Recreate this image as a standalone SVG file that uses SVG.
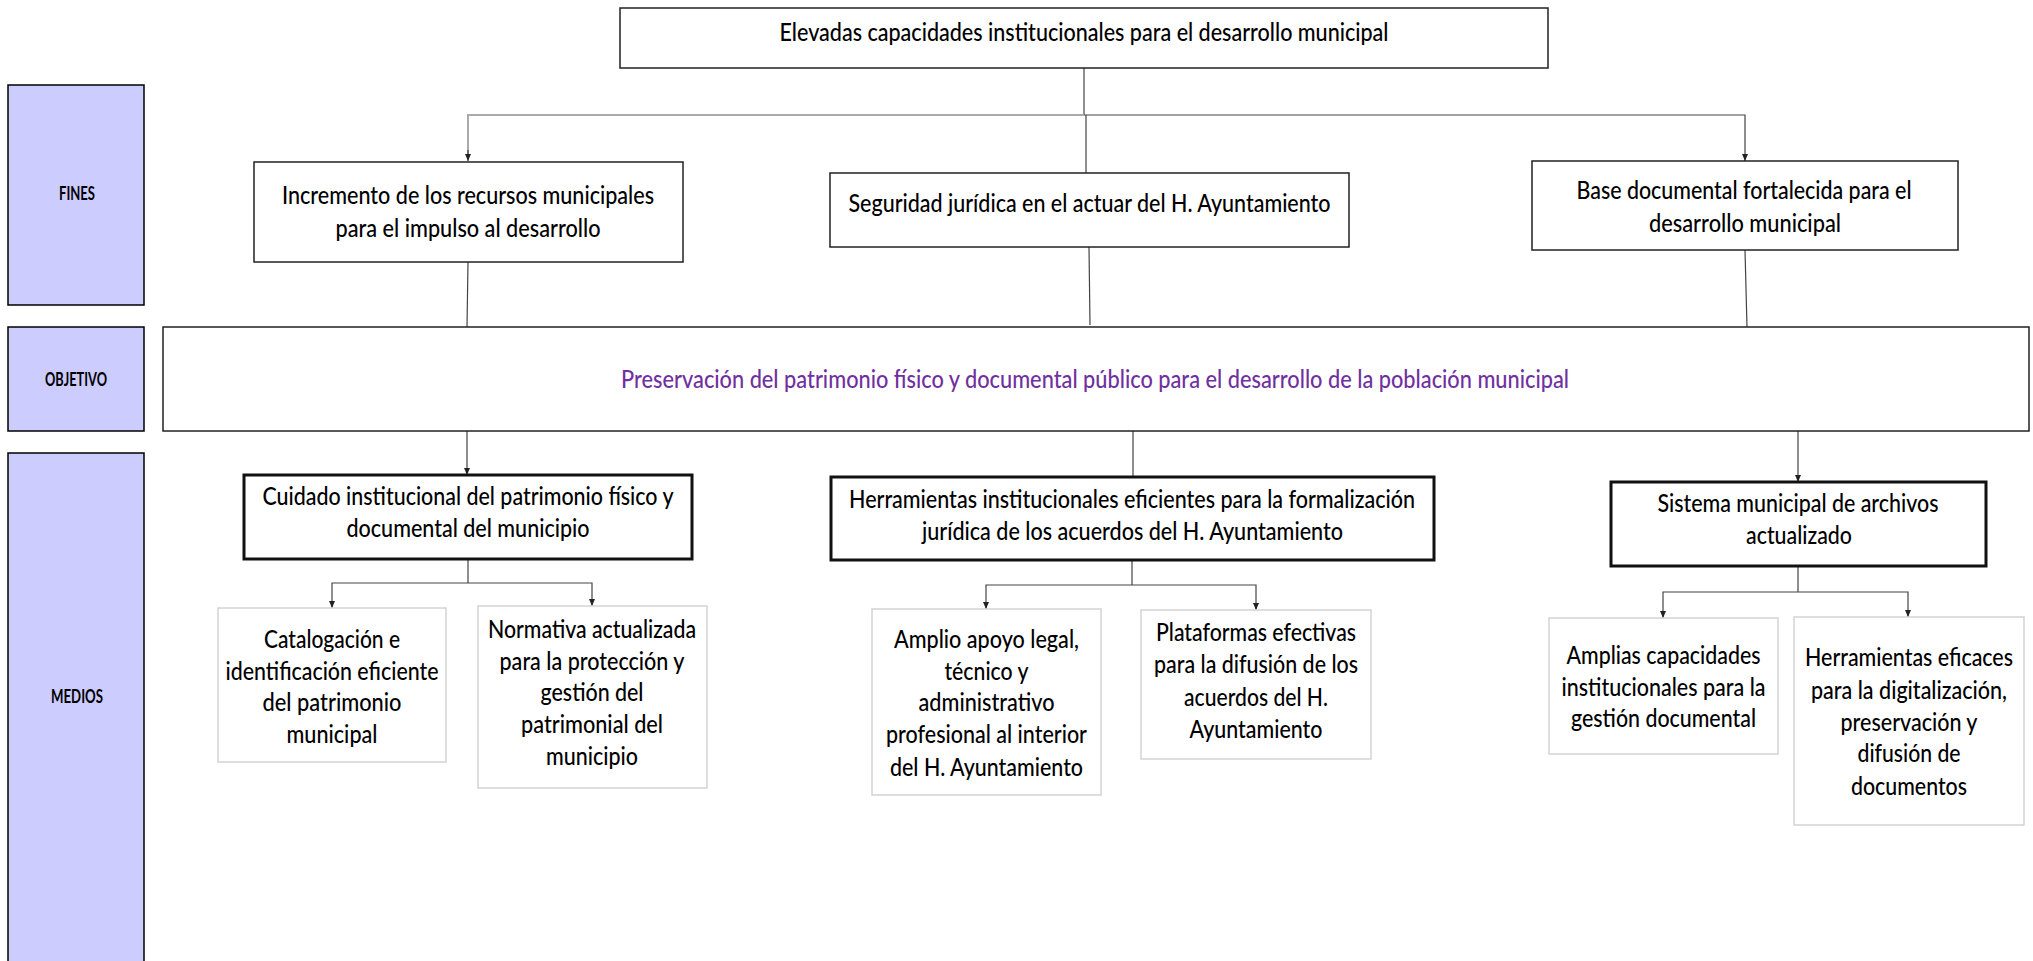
<svg xmlns="http://www.w3.org/2000/svg" width="2033" height="961" viewBox="0 0 2033 961">
<style>
.t{font-family:Lato,"Open Sans","Liberation Sans",sans-serif;font-size:25px;font-weight:500;fill:#000;text-anchor:middle}
.lb{font-family:Lato,"Open Sans","Liberation Sans",sans-serif;font-size:18px;font-weight:bold;fill:#000;text-anchor:middle}
.obj{fill:#7030A0}
.lab{fill:#CCCCFF;stroke:#000;stroke-width:1.5}
.fin{fill:#fff;stroke:#222;stroke-width:1.5}
.med{fill:#fff;stroke:#111;stroke-width:3}
.sub{fill:#fff;stroke:#D3D3D3;stroke-width:1.5}
.c{fill:none;stroke:#444;stroke-width:1.2}
.cl{fill:none;stroke:#AAA;stroke-width:2}
</style>
<defs>
<marker id="ah" markerUnits="userSpaceOnUse" markerWidth="8" markerHeight="8" refX="7" refY="3" orient="auto">
<path d="M0,0 L7,3 L0,6 z" fill="#222"/>
</marker>
</defs>
<rect width="2033" height="961" fill="#fff"/>

<g id="connectors">
<line class="c" x1="1084" y1="68" x2="1084" y2="115"/>
<polyline class="cl" points="1084,115 468,115 468,154"/>
<line class="c" x1="468" y1="150" x2="468" y2="161" marker-end="url(#ah)"/>
<polyline class="c" points="1084,115 1745,115 1745,161" marker-end="url(#ah)"/>
<line class="c" x1="1086" y1="115" x2="1086" y2="173"/>
<line class="c" x1="468" y1="262" x2="467" y2="327"/>
<line class="c" x1="1089" y1="247" x2="1090" y2="325"/>
<line class="c" x1="1745" y1="250" x2="1747" y2="327"/>
<polyline class="c" points="1116,429 467,429 467,475" marker-end="url(#ah)"/>
<polyline class="c" points="1121,429 1798,429 1798,482" marker-end="url(#ah)"/>
<line class="c" x1="1133" y1="429" x2="1133" y2="477"/>
<line class="c" x1="468" y1="559" x2="468" y2="583"/>
<polyline class="c" points="468,583 332,583 332,608" marker-end="url(#ah)"/>
<polyline class="c" points="468,583 592,583 592,606" marker-end="url(#ah)"/>
<line class="c" x1="1132" y1="560" x2="1132" y2="585"/>
<polyline class="c" points="1132,585 986,585 986,609" marker-end="url(#ah)"/>
<polyline class="c" points="1132,585 1256,585 1256,610" marker-end="url(#ah)"/>
<line class="c" x1="1798" y1="566" x2="1798" y2="592"/>
<polyline class="c" points="1798,592 1663,592 1663,618" marker-end="url(#ah)"/>
<polyline class="c" points="1798,592 1908,592 1908,617" marker-end="url(#ah)"/>
</g>

<g id="label-fines">
<rect class="lab" x="8" y="85" width="136" height="220"/>
<text class="lb" x="77" y="200" textLength="36" lengthAdjust="spacingAndGlyphs">FINES</text>
</g>
<g id="label-objetivo">
<rect class="lab" x="8" y="327" width="136" height="104"/>
<text class="lb" x="76" y="386" textLength="62" lengthAdjust="spacingAndGlyphs">OBJETIVO</text>
</g>
<g id="label-medios">
<rect class="lab" x="8" y="453" width="136" height="520"/>
<text class="lb" x="77" y="703" textLength="52" lengthAdjust="spacingAndGlyphs">MEDIOS</text>
</g>

<g id="fin-top">
<rect class="fin" x="620" y="8" width="928" height="60"/>
<text class="t" x="1084" y="41" textLength="609" lengthAdjust="spacingAndGlyphs">Elevadas capacidades institucionales para el desarrollo municipal</text>
</g>
<g id="fin-1">
<rect class="fin" x="254" y="162" width="429" height="100"/>
<text class="t" x="468" y="204" textLength="372" lengthAdjust="spacingAndGlyphs">Incremento de los recursos municipales</text>
<text class="t" x="468" y="237" textLength="265" lengthAdjust="spacingAndGlyphs">para el impulso al desarrollo</text>
</g>
<g id="fin-2">
<rect class="fin" x="830" y="173" width="519" height="74"/>
<text class="t" x="1089.5" y="212" textLength="482" lengthAdjust="spacingAndGlyphs">Seguridad jurídica en el actuar del H. Ayuntamiento</text>
</g>
<g id="fin-3">
<rect class="fin" x="1532" y="161" width="426" height="89"/>
<text class="t" x="1744" y="199" textLength="335" lengthAdjust="spacingAndGlyphs">Base documental fortalecida para el</text>
<text class="t" x="1745" y="232" textLength="192" lengthAdjust="spacingAndGlyphs">desarrollo municipal</text>
</g>

<g id="objetivo">
<rect class="fin" x="163" y="327" width="1866" height="104" stroke="#000"/>
<text class="t obj" x="1095" y="388" textLength="948" lengthAdjust="spacingAndGlyphs">Preservación del patrimonio físico y documental público para el desarrollo de la población municipal</text>
</g>

<g id="medio-1">
<rect class="med" x="244" y="475" width="448" height="84"/>
<text class="t" x="468" y="505" textLength="411" lengthAdjust="spacingAndGlyphs">Cuidado institucional del patrimonio físico y</text>
<text class="t" x="468" y="537" textLength="243" lengthAdjust="spacingAndGlyphs">documental del municipio</text>
</g>
<g id="medio-2">
<rect class="med" x="831" y="477" width="603" height="83"/>
<text class="t" x="1132" y="508" textLength="566" lengthAdjust="spacingAndGlyphs">Herramientas institucionales eficientes para la formalización</text>
<text class="t" x="1132.5" y="540" textLength="421" lengthAdjust="spacingAndGlyphs">jurídica de los acuerdos del H. Ayuntamiento</text>
</g>
<g id="medio-3">
<rect class="med" x="1611" y="482" width="375" height="84"/>
<text class="t" x="1798" y="512" textLength="281" lengthAdjust="spacingAndGlyphs">Sistema municipal de archivos</text>
<text class="t" x="1799" y="544" textLength="106" lengthAdjust="spacingAndGlyphs">actualizado</text>
</g>

<g id="sub-1a">
<rect class="sub" x="218" y="608" width="228" height="154"/>
<text class="t" x="332" y="648" textLength="136" lengthAdjust="spacingAndGlyphs">Catalogación e</text>
<text class="t" x="332" y="680" textLength="213" lengthAdjust="spacingAndGlyphs">identificación eficiente</text>
<text class="t" x="332" y="711" textLength="139" lengthAdjust="spacingAndGlyphs">del patrimonio</text>
<text class="t" x="332" y="743" textLength="91" lengthAdjust="spacingAndGlyphs">municipal</text>
</g>
<g id="sub-1b">
<rect class="sub" x="478" y="606" width="229" height="182"/>
<text class="t" x="592" y="638" textLength="208" lengthAdjust="spacingAndGlyphs">Normativa actualizada</text>
<text class="t" x="592" y="670" textLength="185" lengthAdjust="spacingAndGlyphs">para la protección y</text>
<text class="t" x="592" y="701" textLength="103" lengthAdjust="spacingAndGlyphs">gestión del</text>
<text class="t" x="592" y="733" textLength="142" lengthAdjust="spacingAndGlyphs">patrimonial del</text>
<text class="t" x="592" y="765" textLength="92" lengthAdjust="spacingAndGlyphs">municipio</text>
</g>
<g id="sub-2a">
<rect class="sub" x="872" y="609" width="229" height="186"/>
<text class="t" x="986.5" y="648" textLength="185" lengthAdjust="spacingAndGlyphs">Amplio apoyo legal,</text>
<text class="t" x="986.5" y="680" textLength="84" lengthAdjust="spacingAndGlyphs">técnico y</text>
<text class="t" x="986.5" y="711" textLength="136" lengthAdjust="spacingAndGlyphs">administrativo</text>
<text class="t" x="986.5" y="743" textLength="201" lengthAdjust="spacingAndGlyphs">profesional al interior</text>
<text class="t" x="986.5" y="776" textLength="193" lengthAdjust="spacingAndGlyphs">del H. Ayuntamiento</text>
</g>
<g id="sub-2b">
<rect class="sub" x="1141" y="610" width="230" height="149"/>
<text class="t" x="1256" y="641" textLength="200" lengthAdjust="spacingAndGlyphs">Plataformas efectivas</text>
<text class="t" x="1256" y="673" textLength="204" lengthAdjust="spacingAndGlyphs">para la difusión de los</text>
<text class="t" x="1256" y="706" textLength="144" lengthAdjust="spacingAndGlyphs">acuerdos del H.</text>
<text class="t" x="1256" y="738" textLength="133" lengthAdjust="spacingAndGlyphs">Ayuntamiento</text>
</g>
<g id="sub-3a">
<rect class="sub" x="1549" y="618" width="229" height="136"/>
<text class="t" x="1663.5" y="664" textLength="194" lengthAdjust="spacingAndGlyphs">Amplias capacidades</text>
<text class="t" x="1663.5" y="696" textLength="204" lengthAdjust="spacingAndGlyphs">institucionales para la</text>
<text class="t" x="1663.5" y="727" textLength="185" lengthAdjust="spacingAndGlyphs">gestión documental</text>
</g>
<g id="sub-3b">
<rect class="sub" x="1794" y="617" width="230" height="208"/>
<text class="t" x="1909" y="666" textLength="208" lengthAdjust="spacingAndGlyphs">Herramientas eficaces</text>
<text class="t" x="1909" y="699" textLength="196" lengthAdjust="spacingAndGlyphs">para la digitalización,</text>
<text class="t" x="1909" y="731" textLength="137" lengthAdjust="spacingAndGlyphs">preservación y</text>
<text class="t" x="1909" y="762" textLength="103" lengthAdjust="spacingAndGlyphs">difusión de</text>
<text class="t" x="1909" y="795" textLength="116" lengthAdjust="spacingAndGlyphs">documentos</text>
</g>
</svg>
